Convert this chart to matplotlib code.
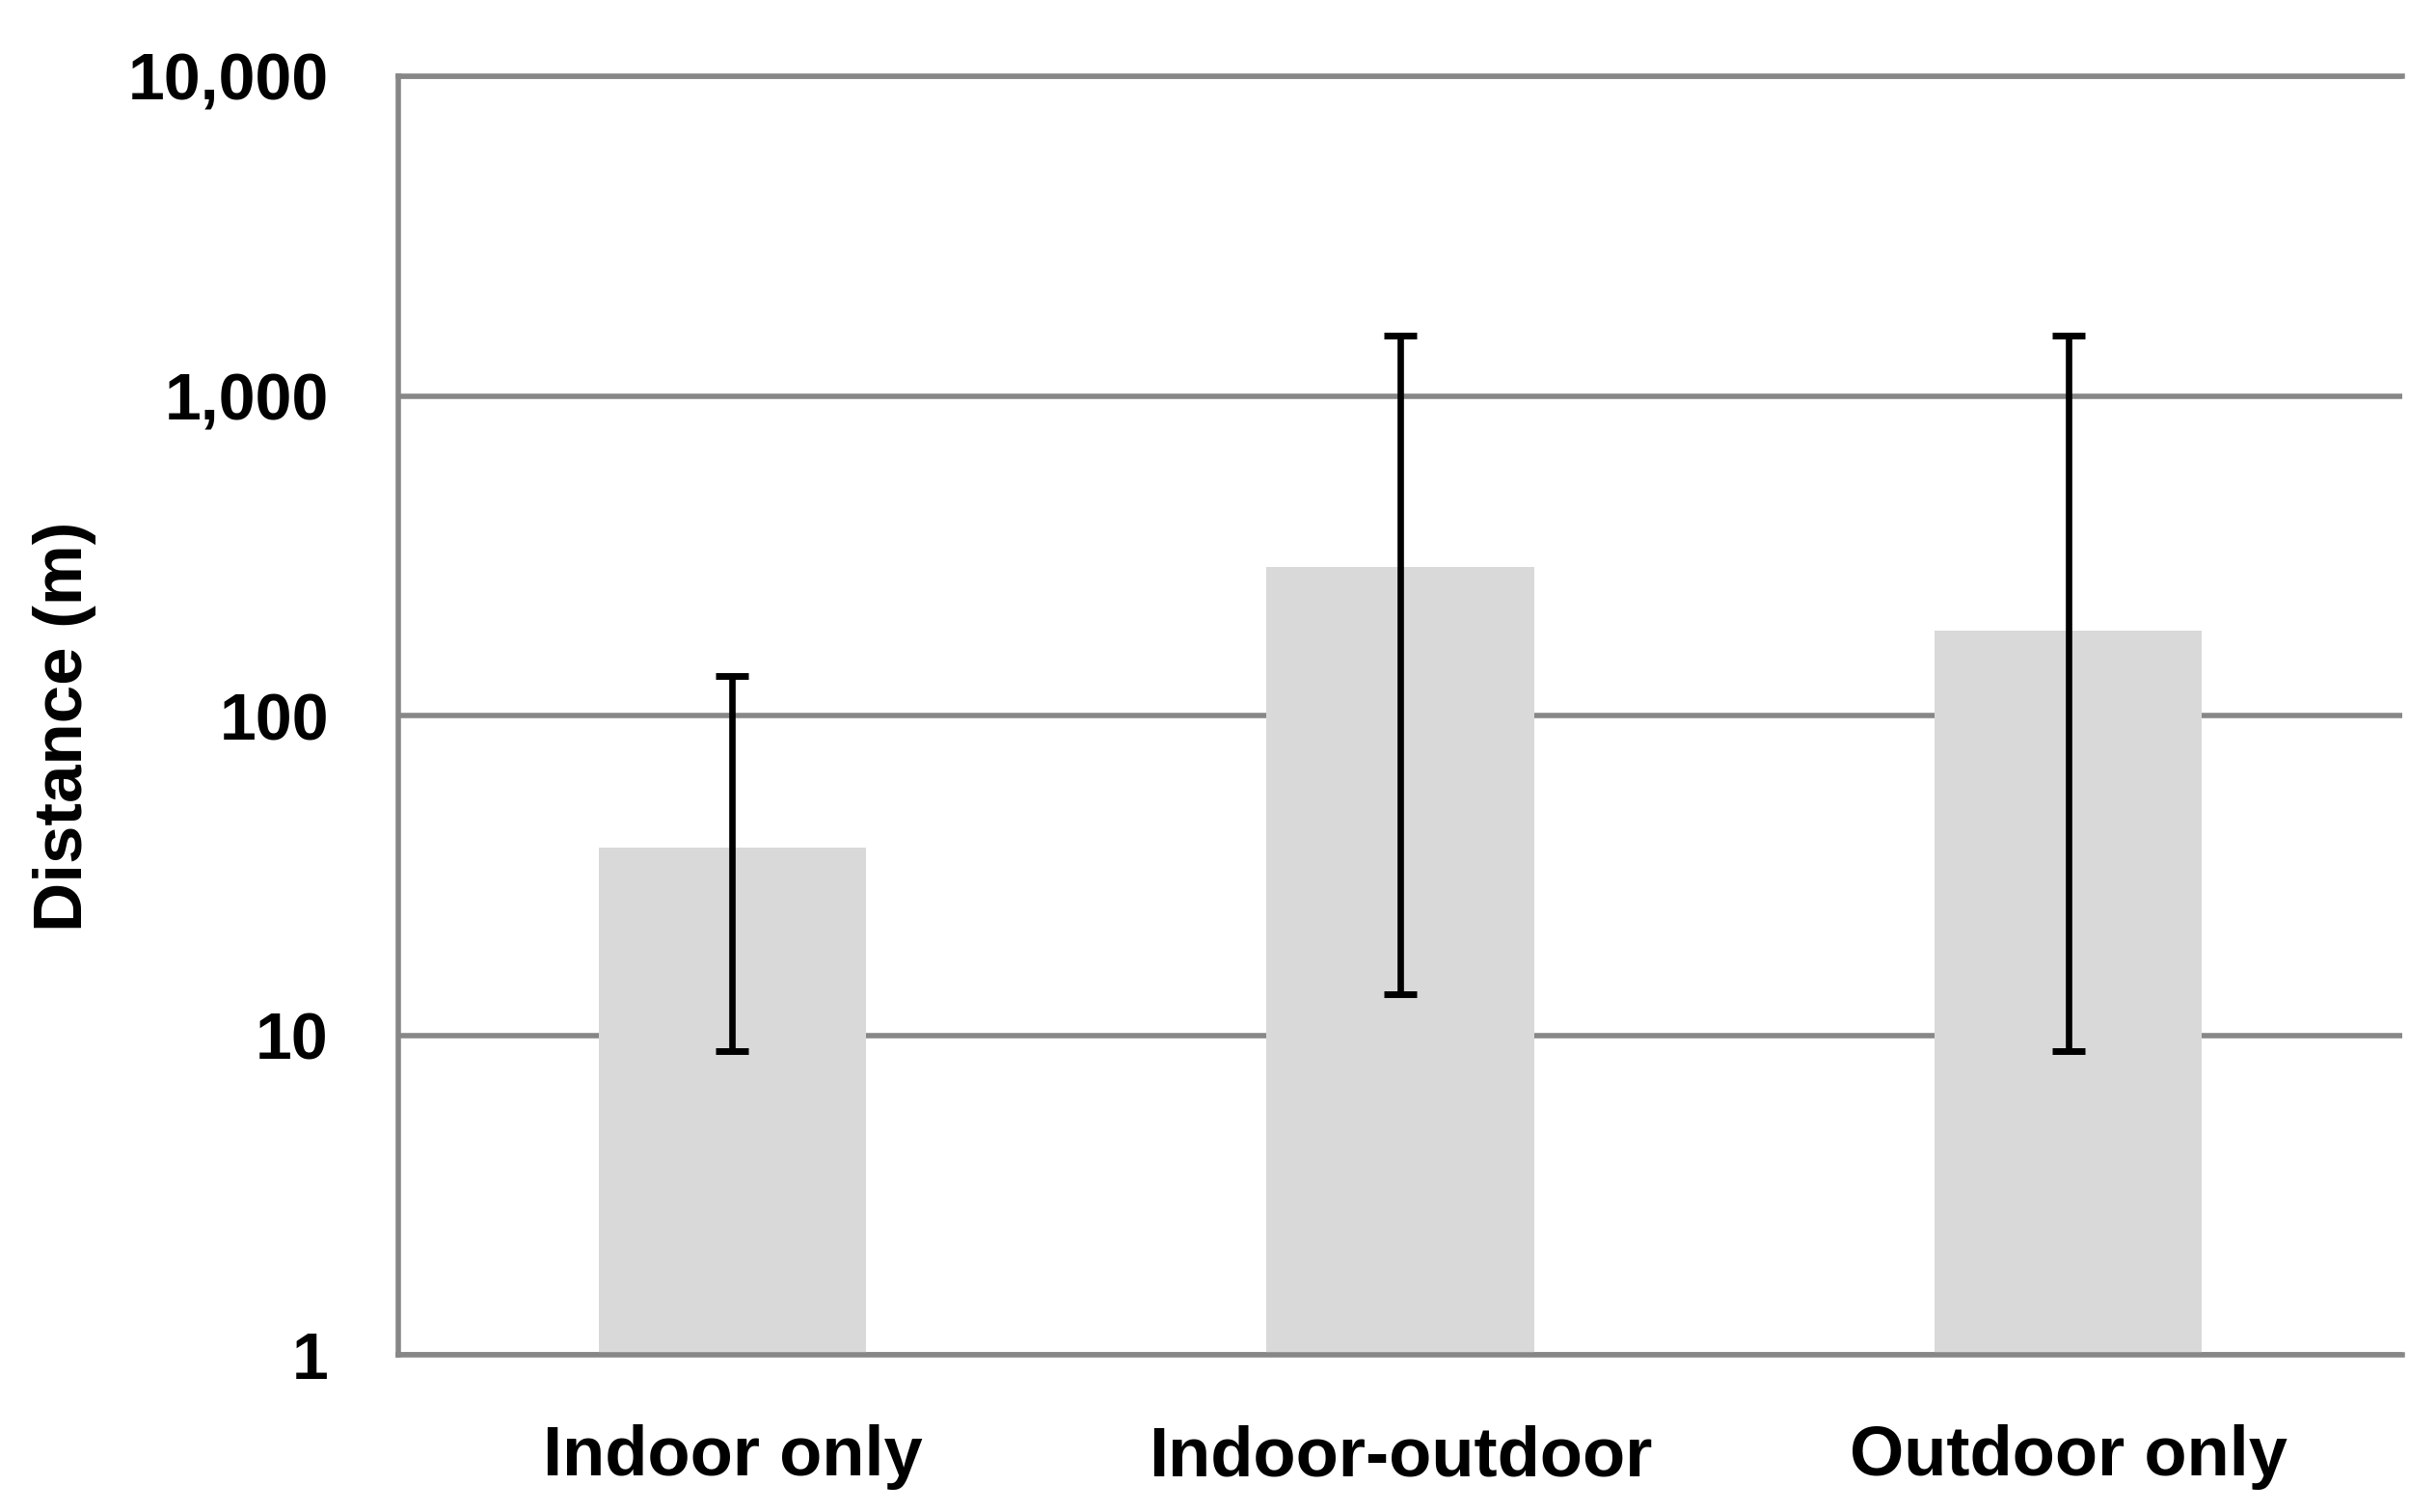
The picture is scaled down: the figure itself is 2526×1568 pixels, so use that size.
import matplotlib
matplotlib.use('Agg')
import matplotlib.pyplot as plt
import numpy as np

categories = ['Indoor only', 'Indoor-outdoor', 'Outdoor only']
distance_m = [38.6, 291, 184]
err_low = [8.9, 13.4, 8.9]
err_high = [133, 1545, 1545]
ytick_values = [1, 10, 100, 1000, 10000]
ytick_labels = ['1', '10', '100', '1,000', '10,000']

plt.rcParams['font.family'] = ['Liberation Sans', 'DejaVu Sans']
plt.rcParams['font.weight'] = 'bold'

grid_col = '#878787'

fig = plt.figure(figsize=(25.26, 15.68), dpi=100)
ax = fig.add_axes([413 / 2526, 1 - 1405 / 1568, (2491 - 413) / 2526, (1405 - 79) / 1568])

x = np.arange(len(categories))
ax.bar(x, distance_m, width=0.4, color='#d9d9d9', zorder=2)

dist = np.array(distance_m)
yerr = [dist - np.array(err_low), np.array(err_high) - dist]
ax.errorbar(x, dist, yerr=yerr, fmt='none', ecolor='black',
            elinewidth=4.8, capsize=12.2, capthick=5, zorder=3)

ax.set_yscale('log')
ax.set_ylim(1, 10000)
ax.set_xlim(-0.5, 2.5)
ax.set_yticks(ytick_values)
ax.set_yticklabels(ytick_labels)
ax.minorticks_off()
ax.set_xticks(x)
ax.set_xticklabels(categories)

ax.tick_params(axis='both', length=0, pad=52)
ax.tick_params(axis='y', labelsize=49)
ax.tick_params(axis='x', labelsize=52)
for lab in ax.get_xticklabels() + ax.get_yticklabels():
    lab.set_fontweight('bold')

ax.yaxis.grid(True, color=grid_col, linewidth=4, zorder=1)
ax.set_axisbelow(True)

for side in ['left', 'bottom', 'top']:
    ax.spines[side].set_color(grid_col)
    ax.spines[side].set_linewidth(4)
    ax.spines[side].set_zorder(4)
ax.spines['right'].set_visible(False)
ax.spines['top'].set_zorder(1)

fig.text(67 / 2526, 1 - 753 / 1568, 'Distance (m)', rotation=90,
         ha='center', va='center', fontsize=51, fontweight='bold')

fig.savefig('out.png', dpi=100)
